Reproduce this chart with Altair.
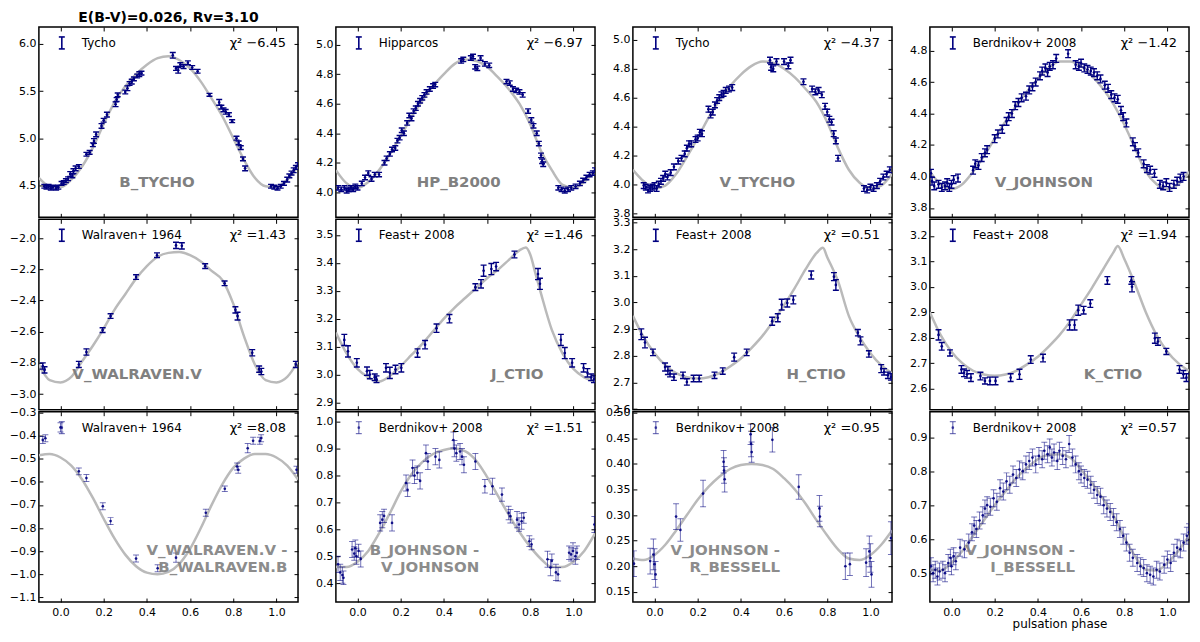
import altair as alt
import pandas as pd

# ---------------------------------------------------------------------------
# values
# ---------------------------------------------------------------------------
X_TICKS = [0.0, 0.2, 0.4, 0.6, 0.8, 1.0]

MODEL_PHASE = [-0.1, -0.05, 0.0, 0.05, 0.1, 0.15, 0.2, 0.25, 0.3, 0.35, 0.4, 0.45, 0.5,
               0.55, 0.6, 0.65, 0.7, 0.75, 0.8, 0.85, 0.9, 0.95, 1.0, 1.05, 1.1]

# B_TYCHO
BT_PHASE = [-0.075, -0.065, -0.055, -0.045, -0.035, -0.02, -0.01, 0.005, 0.015, 0.025, 0.035, 0.045,
            0.055, 0.06, 0.07, 0.085, 0.12, 0.135, 0.15, 0.155, 0.165, 0.19, 0.2, 0.215, 0.255, 0.26,
            0.265, 0.3, 0.31, 0.32, 0.33, 0.34, 0.355, 0.365, 0.375, 0.52, 0.535, 0.545, 0.555, 0.57,
            0.59, 0.61, 0.635, 0.69, 0.735, 0.745, 0.755, 0.765, 0.78, 0.795, 0.815, 0.825, 0.835,
            0.845, 0.855, 0.975, 0.99, 1.005, 1.02, 1.035, 1.05, 1.06, 1.07, 1.08, 1.09, 1.1]
BT_MAG = [4.49, 4.48, 4.49, 4.47, 4.48, 4.47, 4.48, 4.52, 4.53, 4.55, 4.57, 4.62, 4.60, 4.65, 4.68,
          4.70, 4.83, 4.85, 4.93, 4.97, 5.04, 5.13, 5.19, 5.25, 5.36, 5.41, 5.46, 5.49, 5.53, 5.58,
          5.60, 5.63, 5.66, 5.68, 5.69, 5.88, 5.74, 5.72, 5.78, 5.76, 5.80, 5.75, 5.71, 5.46, 5.38,
          5.33, 5.30, 5.28, 5.25, 5.18, 5.00, 4.95, 4.90, 4.78, 4.68, 4.49, 4.48, 4.47, 4.49, 4.52,
          4.56, 4.60, 4.63, 4.66, 4.69, 4.72]
BT_ERR = [0.02, 0.02, 0.02, 0.02, 0.02, 0.02, 0.02, 0.02, 0.02, 0.02, 0.02, 0.025, 0.02, 0.025,
          0.025, 0.02, 0.02, 0.02, 0.02, 0.025, 0.025, 0.025, 0.02, 0.025, 0.025, 0.02, 0.02, 0.02,
          0.025, 0.02, 0.025, 0.02, 0.02, 0.025, 0.02, 0.03, 0.02, 0.03, 0.02, 0.02, 0.02, 0.02,
          0.02, 0.015, 0.03, 0.02, 0.02, 0.025, 0.02, 0.015, 0.02, 0.02, 0.02, 0.02, 0.025, 0.02,
          0.02, 0.02, 0.02, 0.02, 0.025, 0.02, 0.02, 0.025, 0.02, 0.02]
BT_MODEL = [4.58, 4.49, 4.48, 4.56, 4.70, 4.90, 5.15, 5.38, 5.55, 5.68, 5.78, 5.85, 5.87, 5.83,
            5.74, 5.60, 5.42, 5.23, 5.00, 4.77, 4.58, 4.49, 4.48, 4.56, 4.70]

# HP_B2000
HP_PHASE = [-0.09, -0.075, -0.06, -0.05, -0.04, -0.03, -0.02, -0.01, 0.0, 0.02, 0.035, 0.05, 0.065,
            0.08, 0.1, 0.125, 0.135, 0.15, 0.16, 0.175, 0.185, 0.195, 0.205, 0.215, 0.23, 0.24, 0.25,
            0.26, 0.27, 0.28, 0.29, 0.3, 0.31, 0.32, 0.335, 0.35, 0.36, 0.48, 0.49, 0.525, 0.535,
            0.545, 0.555, 0.57, 0.59, 0.61, 0.69, 0.705, 0.72, 0.735, 0.75, 0.765, 0.79, 0.805,
            0.815, 0.83, 0.84, 0.85, 0.855, 0.86, 0.93, 0.945, 0.96, 0.975, 0.99, 1.01, 1.03, 1.045,
            1.06, 1.075, 1.09, 1.1]
HP_MAG = [4.03, 4.02, 4.03, 4.01, 4.02, 4.03, 4.02, 4.04, 4.03, 4.06, 4.10, 4.13, 4.09, 4.12, 4.12,
          4.20, 4.23, 4.26, 4.29, 4.30, 4.35, 4.37, 4.42, 4.40, 4.47, 4.52, 4.50, 4.55, 4.57, 4.60,
          4.62, 4.64, 4.66, 4.68, 4.70, 4.72, 4.73, 4.89, 4.90, 4.91, 4.92, 4.85, 4.84, 4.91, 4.87,
          4.86, 4.75, 4.74, 4.70, 4.69, 4.68, 4.66, 4.55, 4.49, 4.45, 4.40, 4.33, 4.25, 4.21, 4.19,
          4.03, 4.02, 4.01, 4.02, 4.03, 4.04, 4.06, 4.08, 4.10, 4.12, 4.13, 4.15]
HP_ERR = [0.015] * 72
HP_MODEL = [4.15, 4.06, 4.03, 4.07, 4.15, 4.26, 4.38, 4.51, 4.62, 4.72, 4.80, 4.87, 4.90, 4.89,
            4.85, 4.78, 4.70, 4.60, 4.46, 4.28, 4.15, 4.05, 4.03, 4.07, 4.15]

# V_TYCHO
VT_PHASE = [-0.05, -0.04, -0.03, -0.02, -0.01, 0.0, 0.01, 0.02, 0.03, 0.04, 0.05, 0.06, 0.075, 0.09,
            0.11, 0.125, 0.14, 0.15, 0.16, 0.17, 0.19, 0.2, 0.21, 0.22, 0.25, 0.26, 0.27, 0.28, 0.29,
            0.3, 0.31, 0.32, 0.33, 0.345, 0.36, 0.535, 0.54, 0.55, 0.565, 0.6, 0.62, 0.63, 0.69, 0.73,
            0.745, 0.76, 0.775, 0.79, 0.8, 0.81, 0.82, 0.83, 0.84, 0.85, 0.97, 0.985, 1.0, 1.015,
            1.03, 1.045, 1.06, 1.075, 1.09]
VT_MAG = [3.99, 3.98, 3.96, 3.97, 3.98, 3.99, 3.97, 4.00, 4.02, 4.04, 4.07, 4.05, 4.08, 4.12, 4.16,
          4.18, 4.21, 4.25, 4.28, 4.28, 4.31, 4.32, 4.36, 4.35, 4.52, 4.48, 4.50, 4.55, 4.58, 4.60,
          4.62, 4.63, 4.65, 4.66, 4.67, 4.86, 4.81, 4.80, 4.85, 4.85, 4.82, 4.86, 4.71, 4.66, 4.64,
          4.65, 4.62, 4.54, 4.50, 4.45, 4.43, 4.35, 4.30, 4.18, 3.97, 3.96, 3.98, 3.97, 3.99, 4.02,
          4.05, 4.07, 4.10]
VT_ERR = [0.02] * 63
VT_MODEL = [4.10, 4.02, 3.97, 3.99, 4.07, 4.19, 4.32, 4.46, 4.58, 4.68, 4.76, 4.82, 4.85, 4.84,
            4.80, 4.74, 4.66, 4.57, 4.43, 4.25, 4.10, 4.01, 3.97, 3.99, 4.07]

# V_JOHNSON
VJ_PHASE = [-0.095, -0.09, -0.08, -0.06, -0.045, -0.03, -0.02, -0.01, 0.0, 0.01, 0.03, 0.1, 0.11,
            0.125, 0.14, 0.155, 0.165, 0.2, 0.215, 0.235, 0.255, 0.265, 0.28, 0.295, 0.31, 0.325,
            0.345, 0.36, 0.375, 0.39, 0.41, 0.42, 0.435, 0.445, 0.455, 0.47, 0.485, 0.54, 0.575,
            0.59, 0.6, 0.615, 0.63, 0.645, 0.66, 0.675, 0.69, 0.71, 0.725, 0.74, 0.755, 0.77, 0.785,
            0.795, 0.81, 0.84, 0.85, 0.865, 0.89, 0.905, 0.92, 0.94, 0.965, 0.98, 0.995, 1.01, 1.03,
            1.045, 1.06, 1.075]
VJ_MAG = [4.02, 3.97, 3.94, 3.95, 3.93, 3.94, 3.96, 3.93, 3.95, 3.98, 3.99, 4.04, 4.08, 4.07, 4.12,
          4.15, 4.17, 4.24, 4.27, 4.30, 4.35, 4.38, 4.40, 4.45, 4.47, 4.50, 4.51, 4.55, 4.57, 4.60,
          4.64, 4.67, 4.69, 4.66, 4.70, 4.71, 4.75, 4.78, 4.71, 4.70, 4.72, 4.69, 4.68, 4.67, 4.66,
          4.64, 4.62, 4.58, 4.56, 4.52, 4.50, 4.49, 4.42, 4.38, 4.34, 4.22, 4.19, 4.15, 4.08, 4.05,
          4.04, 4.02, 3.95, 3.94, 3.96, 3.93, 3.95, 3.97, 3.99, 4.00]
VJ_ERR = [0.025] * 70
VJ_MODEL = [4.03, 3.95, 3.92, 3.95, 4.03, 4.13, 4.24, 4.35, 4.45, 4.54, 4.62, 4.69, 4.73, 4.73,
            4.70, 4.64, 4.56, 4.46, 4.33, 4.18, 4.03, 3.95, 3.92, 3.95, 4.03]

# V_WALRAVEN.V
WV_PHASE = [-0.082, -0.074, 0.085, 0.12, 0.195, 0.232, 0.35, 0.447, 0.535, 0.562, 0.67, 0.76, 0.81,
            0.82, 0.888, 0.92, 0.93, 1.09]
WV_MAG = [-2.82, -2.845, -2.81, -2.73, -2.59, -2.50, -2.25, -2.11, -2.047, -2.05, -2.18, -2.29,
          -2.46, -2.50, -2.735, -2.84, -2.855, -2.81]
WV_ERR = [0.02, 0.02, 0.02, 0.02, 0.015, 0.015, 0.015, 0.015, 0.02, 0.02, 0.015, 0.015, 0.02,
          0.025, 0.02, 0.02, 0.02, 0.02]
WV_MODEL = [-2.81, -2.91, -2.925, -2.89, -2.79, -2.69, -2.58, -2.46, -2.36, -2.26, -2.18, -2.12,
            -2.095, -2.09, -2.11, -2.15, -2.21, -2.27, -2.42, -2.63, -2.81, -2.91, -2.925, -2.89,
            -2.79]

# J_CTIO
JC_PHASE = [-0.061, -0.044, -0.003, 0.044, 0.057, 0.08, 0.088, 0.132, 0.15, 0.176, 0.203, 0.278,
            0.313, 0.366, 0.426, 0.546, 0.572, 0.584, 0.62, 0.642, 0.727, 0.836, 0.845, 0.942, 0.96,
            0.994, 1.047, 1.065, 1.082, 1.095]
JC_MAG = [3.124, 3.083, 3.042, 3.012, 3.0, 2.99, 2.983, 3.024, 3.006, 3.018, 3.024, 3.077, 3.107,
          3.166, 3.2, 3.313, 3.325, 3.372, 3.378, 3.387, 3.43, 3.36, 3.325, 3.124, 3.077, 3.042,
          3.024, 3.006, 2.99, 2.983]
JC_ERR = [0.02, 0.02, 0.015, 0.015, 0.015, 0.012, 0.012, 0.015, 0.02, 0.015, 0.015, 0.015, 0.015,
          0.015, 0.015, 0.012, 0.015, 0.02, 0.02, 0.015, 0.012, 0.02, 0.02, 0.02, 0.02, 0.015,
          0.015, 0.015, 0.012, 0.012]
JC_MODEL_PHASE = [-0.1, -0.05, 0.0, 0.05, 0.1, 0.15, 0.2, 0.25, 0.3, 0.35, 0.4, 0.45, 0.5, 0.55,
                  0.6, 0.65, 0.7, 0.75, 0.78, 0.8, 0.825, 0.85, 0.9, 0.95, 1.0, 1.05, 1.1]
JC_MODEL = [3.15, 3.075, 3.02, 2.99, 2.975, 2.995, 3.03, 3.07, 3.11, 3.155, 3.2, 3.24, 3.275, 3.31,
            3.345, 3.375, 3.41, 3.445, 3.455, 3.43, 3.36, 3.29, 3.16, 3.075, 3.02, 2.99, 2.975]

# H_CTIO
HC_PHASE = [-0.061, -0.044, -0.007, 0.049, 0.062, 0.072, 0.09, 0.132, 0.15, 0.181, 0.207, 0.278,
            0.316, 0.369, 0.427, 0.545, 0.571, 0.589, 0.615, 0.643, 0.726, 0.831, 0.84, 0.942, 0.954,
            0.993, 1.05, 1.063, 1.081, 1.095]
HC_MAG = [2.881, 2.85, 2.813, 2.758, 2.745, 2.733, 2.72, 2.727, 2.702, 2.715, 2.715, 2.727, 2.743,
          2.795, 2.813, 2.93, 2.943, 2.992, 2.998, 3.01, 3.103, 3.097, 3.066, 2.887, 2.856, 2.807,
          2.752, 2.74, 2.727, 2.721]
HC_ERR = [0.02, 0.02, 0.012, 0.015, 0.015, 0.012, 0.012, 0.012, 0.012, 0.012, 0.012, 0.012, 0.012,
          0.015, 0.012, 0.015, 0.015, 0.02, 0.015, 0.015, 0.015, 0.015, 0.02, 0.012, 0.015, 0.012,
          0.015, 0.012, 0.012, 0.012]
HC_MODEL_PHASE = [-0.1, -0.05, 0.0, 0.05, 0.1, 0.15, 0.2, 0.25, 0.3, 0.35, 0.4, 0.45, 0.5, 0.55,
                  0.6, 0.65, 0.7, 0.75, 0.78, 0.8, 0.85, 0.9, 0.95, 1.0, 1.05, 1.1]
HC_MODEL = [2.95, 2.87, 2.81, 2.765, 2.735, 2.72, 2.715, 2.72, 2.735, 2.76, 2.79, 2.83, 2.875, 2.93,
            2.99, 3.055, 3.125, 3.185, 3.205, 3.17, 3.08, 2.95, 2.87, 2.81, 2.765, 2.735]

# K_CTIO
KC_PHASE = [-0.06, -0.045, -0.007, 0.046, 0.058, 0.072, 0.09, 0.134, 0.155, 0.178, 0.204, 0.274,
            0.315, 0.367, 0.424, 0.547, 0.57, 0.587, 0.612, 0.643, 0.722, 0.833, 0.836, 0.942, 0.956,
            0.995, 1.056, 1.074, 1.088]
KC_MAG = [2.811, 2.766, 2.74, 2.675, 2.662, 2.656, 2.643, 2.649, 2.63, 2.63, 2.63, 2.643, 2.656,
          2.714, 2.72, 2.85, 2.85, 2.908, 2.908, 2.934, 3.025, 3.025, 3.0, 2.798, 2.785, 2.746,
          2.675, 2.656, 2.643]
KC_ERR = [0.02, 0.015, 0.012, 0.015, 0.015, 0.015, 0.015, 0.015, 0.012, 0.015, 0.015, 0.015, 0.02,
          0.015, 0.015, 0.02, 0.02, 0.02, 0.015, 0.015, 0.015, 0.015, 0.02, 0.02, 0.015, 0.012,
          0.015, 0.015, 0.015]
KC_MODEL_PHASE = [-0.1, -0.05, 0.0, 0.05, 0.1, 0.15, 0.2, 0.25, 0.3, 0.35, 0.4, 0.45, 0.5, 0.55,
                  0.6, 0.65, 0.7, 0.75, 0.77, 0.8, 0.85, 0.9, 0.95, 1.0, 1.05, 1.1]
KC_MODEL = [2.90, 2.81, 2.745, 2.70, 2.67, 2.655, 2.65, 2.655, 2.67, 2.695, 2.725, 2.765, 2.81,
            2.865, 2.93, 2.995, 3.065, 3.135, 3.16, 3.11, 3.01, 2.90, 2.81, 2.745, 2.70, 2.67]

# V_WALRAVEN.V - B_WALRAVEN.B
WC_PHASE = [-0.082, -0.07, 0.0, 0.085, 0.12, 0.196, 0.232, 0.35, 0.45, 0.535, 0.673, 0.761, 0.818,
            0.823, 0.867, 0.892, 0.923, 0.929, 1.093]
WC_MAG = [-0.419, -0.412, -0.365, -0.555, -0.584, -0.706, -0.77, -0.932, -0.974, -0.928, -0.734,
          -0.63, -0.534, -0.548, -0.455, -0.423, -0.423, -0.412, -0.548]
WC_ERR = [0.015, 0.015, 0.02, 0.015, 0.015, 0.015, 0.015, 0.015, 0.015, 0.02, 0.015, 0.012,
          0.015, 0.015, 0.02, 0.015, 0.015, 0.015, 0.015]
WC_MODEL = [-0.485, -0.48, -0.495, -0.53, -0.59, -0.67, -0.76, -0.845, -0.915, -0.965, -0.993,
            -1.0, -0.99, -0.955, -0.89, -0.80, -0.70, -0.61, -0.54, -0.50, -0.48, -0.48, -0.495,
            -0.53, -0.59]

# B_JOHNSON - V_JOHNSON
BV_PHASE = [-0.09, -0.08, -0.07, -0.065, -0.025, -0.015, -0.01, -0.005, 0.005, 0.015, 0.105, 0.115,
            0.123, 0.16, 0.225, 0.232, 0.255, 0.264, 0.277, 0.29, 0.317, 0.326, 0.361, 0.379, 0.444,
            0.449, 0.458, 0.475, 0.484, 0.493, 0.546, 0.59, 0.625, 0.669, 0.7, 0.708, 0.739, 0.748,
            0.76, 0.77, 0.796, 0.806, 0.88, 0.894, 0.9, 0.919, 0.929, 0.98, 0.989, 0.998, 1.009,
            1.016, 1.097]
BV_MAG = [0.47, 0.44, 0.43, 0.42, 0.525, 0.51, 0.53, 0.50, 0.52, 0.49, 0.624, 0.636, 0.65, 0.624,
          0.772, 0.747, 0.828, 0.80, 0.81, 0.78, 0.883, 0.852, 0.87, 0.858, 0.932, 0.90, 0.883,
          0.889, 0.87, 0.84, 0.852, 0.76, 0.76, 0.729, 0.661, 0.649, 0.636, 0.618, 0.63, 0.643,
          0.556, 0.544, 0.489, 0.458, 0.483, 0.44, 0.433, 0.513, 0.507, 0.52, 0.50, 0.513, 0.618]
BV_ERR = [0.03, 0.03, 0.03, 0.025, 0.03, 0.025, 0.03, 0.03, 0.025, 0.03, 0.03, 0.03, 0.025, 0.03,
          0.03, 0.025, 0.03, 0.03, 0.025, 0.03, 0.03, 0.03, 0.03, 0.03, 0.03, 0.03, 0.03, 0.03,
          0.03, 0.03, 0.03, 0.025, 0.03, 0.025, 0.025, 0.025, 0.03, 0.025, 0.03, 0.02, 0.02, 0.02,
          0.03, 0.03, 0.025, 0.03, 0.025, 0.025, 0.025, 0.03, 0.03, 0.025, 0.03]
BV_MODEL = [0.46, 0.46, 0.48, 0.52, 0.585, 0.66, 0.74, 0.805, 0.85, 0.88, 0.895, 0.90, 0.89, 0.855,
            0.795, 0.725, 0.655, 0.59, 0.535, 0.49, 0.46, 0.46, 0.48, 0.52, 0.585]

# V_JOHNSON - R_BESSELL
VR_PHASE = [-0.095, -0.02, -0.005, 0.0, 0.005, 0.1, 0.12, 0.225, 0.32, 0.322, 0.325, 0.445, 0.447,
            0.45, 0.546, 0.668, 0.764, 0.766, 0.884, 0.905, 0.98, 0.995, 1.0, 1.005, 1.095]
VR_MAG = [0.205, 0.21, 0.223, 0.204, 0.184, 0.297, 0.271, 0.342, 0.404, 0.387, 0.37, 0.458, 0.439,
          0.423, 0.447, 0.355, 0.313, 0.297, 0.20, 0.204, 0.207, 0.229, 0.216, 0.184, 0.255]
VR_ERR = [0.025, 0.025, 0.03, 0.03, 0.025, 0.025, 0.022, 0.026, 0.022, 0.025, 0.025, 0.02, 0.025,
          0.02, 0.024, 0.024, 0.025, 0.02, 0.026, 0.022, 0.027, 0.03, 0.028, 0.025, 0.032]
VR_MODEL = [0.215, 0.212, 0.222, 0.242, 0.27, 0.30, 0.33, 0.355, 0.375, 0.39, 0.398, 0.40, 0.398,
            0.39, 0.372, 0.35, 0.322, 0.29, 0.26, 0.233, 0.215, 0.212, 0.222, 0.242, 0.27]

# V_JOHNSON - I_BESSELL
VI_PHASE = [-0.095, -0.085, -0.075, -0.065, -0.055, -0.04, -0.03, -0.015, -0.005, 0.0, 0.01, 0.02,
            0.04, 0.06, 0.08, 0.095, 0.105, 0.115, 0.13, 0.145, 0.155, 0.165, 0.18, 0.195, 0.21,
            0.225, 0.24, 0.255, 0.27, 0.285, 0.3, 0.315, 0.33, 0.345, 0.36, 0.375, 0.39, 0.405, 0.42,
            0.43, 0.445, 0.455, 0.465, 0.475, 0.49, 0.5, 0.515, 0.53, 0.545, 0.56, 0.575, 0.59, 0.6,
            0.615, 0.63, 0.645, 0.66, 0.675, 0.69, 0.705, 0.72, 0.735, 0.75, 0.765, 0.78, 0.795,
            0.81, 0.825, 0.84, 0.86, 0.875, 0.89, 0.905, 0.92, 0.935, 0.95, 0.965, 0.985, 1.0, 1.015,
            1.03, 1.045, 1.06, 1.075, 1.09, 1.1]
VI_MAG = [0.52, 0.50, 0.51, 0.49, 0.505, 0.51, 0.50, 0.53, 0.545, 0.52, 0.55, 0.535, 0.575, 0.57,
          0.59, 0.62, 0.64, 0.63, 0.655, 0.67, 0.69, 0.70, 0.695, 0.72, 0.71, 0.75, 0.74, 0.77,
          0.76, 0.79, 0.78, 0.805, 0.80, 0.82, 0.83, 0.84, 0.82, 0.845, 0.835, 0.86, 0.85, 0.87,
          0.84, 0.855, 0.83, 0.86, 0.845, 0.835, 0.88, 0.84, 0.82, 0.80, 0.79, 0.78, 0.775, 0.76,
          0.745, 0.73, 0.725, 0.70, 0.69, 0.68, 0.665, 0.65, 0.63, 0.61, 0.59, 0.56, 0.545, 0.53,
          0.52, 0.515, 0.50, 0.495, 0.49, 0.51, 0.505, 0.525, 0.54, 0.53, 0.56, 0.575, 0.57, 0.59,
          0.61, 0.62]
VI_ERR = [0.025] * 86
VI_MODEL = [0.51, 0.508, 0.53, 0.565, 0.61, 0.655, 0.70, 0.74, 0.78, 0.81, 0.835, 0.848, 0.85,
            0.84, 0.805, 0.765, 0.72, 0.67, 0.605, 0.55, 0.51, 0.508, 0.53, 0.565, 0.61]

NAVY = "#000080"
CURVE = "#bababa"
GREY = "#808080"
FONT = "DejaVu Sans"
W, H = 260, 191

PANELS = [
    dict(phase=BT_PHASE, mag=BT_MAG, err=BT_ERR, mphase=MODEL_PHASE, model=BT_MODEL,
         ydom=[4.16, 6.18], yticks=[4.5, 5.0, 5.5, 6.0], fmt=".1f", source="Tycho",
         chi="χ² −6.45", label="B_TYCHO", lx=0.456, ly=0.817, align="center"),
    dict(phase=HP_PHASE, mag=HP_MAG, err=HP_ERR, mphase=MODEL_PHASE, model=HP_MODEL,
         ydom=[3.83, 5.12], yticks=[4.0, 4.2, 4.4, 4.6, 4.8, 5.0], fmt=".1f", source="Hipparcos",
         chi="χ² −6.97", label="HP_B2000", lx=0.474, ly=0.817, align="center"),
    dict(phase=VT_PHASE, mag=VT_MAG, err=VT_ERR, mphase=MODEL_PHASE, model=VT_MODEL,
         ydom=[3.77, 5.09], yticks=[3.8, 4.0, 4.2, 4.4, 4.6, 4.8, 5.0], fmt=".1f", source="Tycho",
         chi="χ² −4.37", label="V_TYCHO", lx=0.48, ly=0.817, align="center"),
    dict(phase=VJ_PHASE, mag=VJ_MAG, err=VJ_ERR, mphase=MODEL_PHASE, model=VJ_MODEL,
         ydom=[3.74, 4.95], yticks=[3.8, 4.0, 4.2, 4.4, 4.6, 4.8], fmt=".1f",
         source="Berdnikov+ 2008", chi="χ² −1.42", label="V_JOHNSON", lx=0.44, ly=0.817,
         align="center"),
    dict(phase=WV_PHASE, mag=WV_MAG, err=WV_ERR, mphase=MODEL_PHASE, model=WV_MODEL,
         ydom=[-3.10, -1.88], yticks=[-3.0, -2.8, -2.6, -2.4, -2.2, -2.0], fmt=".1f",
         source="Walraven+ 1964", chi="χ² =1.43", label="V_WALRAVEN.V", lx=0.379, ly=0.815,
         align="center"),
    dict(phase=JC_PHASE, mag=JC_MAG, err=JC_ERR, mphase=JC_MODEL_PHASE, model=JC_MODEL,
         ydom=[2.874, 3.556], yticks=[2.9, 3.0, 3.1, 3.2, 3.3, 3.4, 3.5], fmt=".1f",
         source="Feast+ 2008", chi="χ² =1.46", label="J_CTIO", lx=0.70, ly=0.815, align="center"),
    dict(phase=HC_PHASE, mag=HC_MAG, err=HC_ERR, mphase=HC_MODEL_PHASE, model=HC_MODEL,
         ydom=[2.598, 3.312], yticks=[2.6, 2.7, 2.8, 2.9, 3.0, 3.1, 3.2, 3.3], fmt=".1f",
         source="Feast+ 2008", chi="χ² =0.51", label="H_CTIO", lx=0.707, ly=0.815, align="center"),
    dict(phase=KC_PHASE, mag=KC_MAG, err=KC_ERR, mphase=KC_MODEL_PHASE, model=KC_MODEL,
         ydom=[2.517, 3.265], yticks=[2.6, 2.7, 2.8, 2.9, 3.0, 3.1, 3.2], fmt=".1f",
         source="Feast+ 2008", chi="χ² =1.94", label="K_CTIO", lx=0.707, ly=0.815, align="center"),
    dict(phase=WC_PHASE, mag=WC_MAG, err=WC_ERR, mphase=MODEL_PHASE, model=WC_MODEL,
         ydom=[-1.12, -0.297], yticks=[-1.1, -1.0, -0.9, -0.8, -0.7, -0.6, -0.5, -0.4, -0.3],
         fmt=".1f", source="Walraven+ 1964", chi="χ² =8.08",
         label="V_WALRAVEN.V -\nB_WALRAVEN.B", lx=0.959, ly=0.69, align="right"),
    dict(phase=BV_PHASE, mag=BV_MAG, err=BV_ERR, mphase=MODEL_PHASE, model=BV_MODEL,
         ydom=[0.33, 1.037], yticks=[0.4, 0.5, 0.6, 0.7, 0.8, 0.9, 1.0], fmt=".1f",
         source="Berdnikov+ 2008", chi="χ² =1.51", label="B_JOHNSON -\nV_JOHNSON", lx=0.553,
         ly=0.69, align="right"),
    dict(phase=VR_PHASE, mag=VR_MAG, err=VR_ERR, mphase=MODEL_PHASE, model=VR_MODEL,
         ydom=[0.13, 0.502], yticks=[0.15, 0.20, 0.25, 0.30, 0.35, 0.40, 0.45, 0.50], fmt=".2f",
         source="Berdnikov+ 2008", chi="χ² =0.95", label="V_JOHNSON -\nR_BESSELL", lx=0.568,
         ly=0.69, align="right"),
    dict(phase=VI_PHASE, mag=VI_MAG, err=VI_ERR, mphase=MODEL_PHASE, model=VI_MODEL,
         ydom=[0.415, 0.975], yticks=[0.5, 0.6, 0.7, 0.8, 0.9], fmt=".1f",
         source="Berdnikov+ 2008", chi="χ² =0.57", label="V_JOHNSON -\nI_BESSELL", lx=0.56,
         ly=0.69, align="right"),
]


def note(text, x, y, **mark):
    return alt.Chart(pd.DataFrame({"t": [text]})).mark_text(font=FONT, **mark).encode(
        x=alt.value(x), y=alt.value(y), text="t:N")


def make_panel(p, row, col):
    pts = pd.DataFrame({"phase": p["phase"], "mag": p["mag"], "err": p["err"]})
    pts["lo"] = pts["mag"] - pts["err"]
    pts["hi"] = pts["mag"] + pts["err"]
    model = pd.DataFrame({"phase": p["mphase"], "mag": p["model"]})

    faded = row == 2
    sw = 1.0 if faded else 1.4
    op = 0.55 if faded else 1.0

    xs = alt.Scale(domain=[-0.1, 1.1], nice=False, zero=False)
    ys = alt.Scale(domain=p["ydom"], nice=False, zero=False)
    inward = dict(offset=-4, tickSize=4, domain=False, labelFlush=False, labelOverlap=False)
    x_axis = alt.Axis(values=X_TICKS, format=".1f", labels=faded, labelPadding=4,
                      title="pulsation phase" if (faded and col == 3) else None, **inward)
    y_axis = alt.Axis(values=p["yticks"], format=p["fmt"], labelPadding=3, title=None, **inward)
    x_top = alt.Axis(orient="top", values=X_TICKS, labels=False, title=None, **inward)
    y_right = alt.Axis(orient="right", values=p["yticks"], labels=False, title=None, **inward)

    curve = alt.Chart(model).mark_line(color=CURVE, strokeWidth=2.5, interpolate="monotone",
                                       clip=True).encode(
        x=alt.X("phase:Q", scale=xs, axis=x_axis),
        y=alt.Y("mag:Q", scale=ys, axis=y_axis))
    frame = alt.Chart(model).mark_line(opacity=0).encode(
        x=alt.X("phase:Q", scale=xs, axis=x_top),
        y=alt.Y("mag:Q", scale=ys, axis=y_right))

    base = alt.Chart(pts)
    bars = base.mark_rule(color=NAVY, strokeWidth=sw, opacity=op, clip=True).encode(
        x=alt.X("phase:Q", axis=None), y=alt.Y("lo:Q", axis=None), y2="hi:Q")
    cap_lo = base.mark_tick(orient="horizontal", size=6, thickness=sw, color=NAVY, opacity=op,
                            clip=True).encode(
        x=alt.X("phase:Q", axis=None), y=alt.Y("lo:Q", axis=None))
    cap_hi = base.mark_tick(orient="horizontal", size=6, thickness=sw, color=NAVY, opacity=op,
                            clip=True).encode(
        x=alt.X("phase:Q", axis=None), y=alt.Y("hi:Q", axis=None))
    dots = base.mark_circle(size=7, color=NAVY, opacity=0.9 if faded else 1.0, clip=True).encode(
        x=alt.X("phase:Q", axis=None), y=alt.Y("mag:Q", axis=None))

    # legend entry: little error-bar glyph + source name
    one = pd.DataFrame({"k": [0]})
    icon = alt.Chart(one).mark_rule(color=NAVY, strokeWidth=sw + 0.2, opacity=op).encode(
        x=alt.value(23), y=alt.value(10), y2=alt.value(22))
    icon_top = alt.Chart(one).mark_rule(color=NAVY, strokeWidth=sw + 0.2, opacity=op).encode(
        x=alt.value(20), x2=alt.value(26), y=alt.value(10))
    icon_bot = alt.Chart(one).mark_rule(color=NAVY, strokeWidth=sw + 0.2, opacity=op).encode(
        x=alt.value(20), x2=alt.value(26), y=alt.value(22))
    layers = [curve, frame, bars, cap_lo, cap_hi, dots, icon, icon_top, icon_bot]
    if faded:
        layers.append(alt.Chart(one).mark_circle(size=7, color=NAVY).encode(
            x=alt.value(23), y=alt.value(16)))

    layers.append(note(p["source"], 43, 16, align="left", baseline="middle", fontSize=12,
                       color="black"))
    layers.append(note(p["chi"], W - 12, 16, align="right", baseline="middle", fontSize=13,
                       color="black"))
    if "\n" in p["label"]:
        layers.append(note(p["label"], p["lx"] * W, p["ly"] * H, align="right", baseline="top",
                           fontSize=15, fontWeight="bold", color=GREY, lineBreak="\n",
                           lineHeight=17, opacity=0.9))
    else:
        layers.append(note(p["label"], p["lx"] * W, p["ly"] * H, align="center",
                           baseline="middle", fontSize=15, fontWeight="bold", color=GREY))

    props = dict(width=W, height=H)
    if row == 0 and col == 0:
        props["title"] = alt.Title("E(B-V)=0.026, Rv=3.10", font=FONT, fontSize=14,
                                   fontWeight="bold", anchor="middle", offset=2, color="black")
    return alt.layer(*layers).resolve_axis(x="independent", y="independent").properties(**props)


panels = [make_panel(PANELS[r * 4 + c], r, c) for r in range(3) for c in range(4)]

chart = alt.concat(*panels, columns=4, spacing={"row": 2, "column": 38}, bounds="flush").properties(
    padding={"left": 0, "top": 0, "right": 1, "bottom": 0}
).configure_view(
    stroke="black", strokeWidth=1.5
).configure_axis(
    grid=False, labelFont=FONT, labelFontSize=11, labelColor="black", tickColor="black",
    tickWidth=1, titleFont=FONT, titleFontSize=12, titleFontWeight="normal", titleColor="black",
    titlePadding=2
)

chart.save("out.html", embed_options={"renderer": "svg", "actions": False})
